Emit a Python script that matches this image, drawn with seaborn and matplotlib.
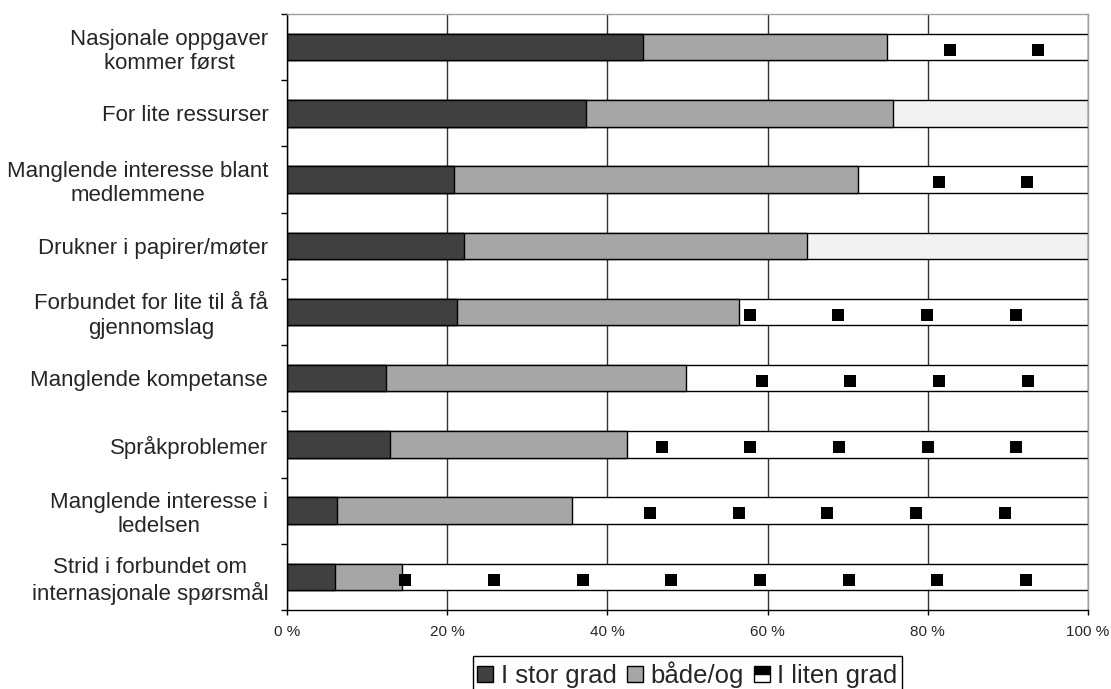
import numpy as np
import pandas as pd
import seaborn as sns
import matplotlib.pyplot as plt
from matplotlib.lines import Line2D

# chart data (percent of answers)
categories = [
    "Nasjonale oppgaver\nkommer først",
    "For lite ressurser",
    "Manglende interesse blant\nmedlemmene",
    "Drukner i papirer/møter",
    "Forbundet for lite til å få\ngjennomslag",
    "Manglende kompetanse",
    "Språkproblemer",
    "Manglende interesse i\nledelsen",
    "Strid i forbundet om\ninternasjonale spørsmål",
]
stor_grad = [44.4, 37.3, 20.9, 22.1, 21.2, 12.4, 12.9, 6.2, 6.0]
baade_og = [30.5, 38.4, 50.4, 42.8, 35.2, 37.4, 29.5, 29.4, 8.4]
liten_grad = [25.1, 24.3, 28.7, 35.1, 43.6, 50.2, 57.6, 64.4, 85.6]
series_names = ["I stor grad", "både/og", "I liten grad"]
x_ticks = [0, 20, 40, 60, 80, 100]

# styling of the patterned "I liten grad" fill (excel pattern rendering)
liten_fill = ["white", "#F2F2F2", "white", "#F2F2F2", "white", "white", "white", "white", "white"]
square_phase = [5.24, None, 3.85, None, 2.43, 3.9, 2.49, 1.02, 3.7]
square_period = 11.07

sns.set_style("white")
plt.rcParams["font.family"] = ["Liberation Sans", "DejaVu Sans"]

df = pd.DataFrame({
    "category": categories,
    "stor": stor_grad,
    "baade": baade_og,
    "liten": liten_grad,
})
df["cum2"] = df["stor"] + df["baade"]
df["cum3"] = df["cum2"] + df["liten"]

fig = plt.figure(figsize=(11.11, 6.89), dpi=100)
ax = fig.add_axes([287 / 1111, 1 - 610 / 689, 801 / 1111, 596 / 689])

# stacked bars: draw cumulative totals back to front
bar_kw = dict(orient="h", width=0.4, edgecolor="black", linewidth=1, ax=ax, zorder=2)
sns.barplot(data=df, x="cum3", y="category", hue="category", palette=liten_fill,
            legend=False, **bar_kw)
sns.barplot(data=df, x="cum2", y="category", color="#A6A6A6", saturation=1, **bar_kw)
sns.barplot(data=df, x="stor", y="category", color="#404040", saturation=1, **bar_kw)

# black squares of the pattern fill
for i, row in df.iterrows():
    phase = square_phase[i]
    if phase is None:
        continue
    xs = phase + square_period * np.arange(10)
    xs = xs[(xs > row["cum2"] + 0.3) & (xs < 99.3)]
    ax.scatter(xs, np.full(len(xs), i + 0.04), marker="s", s=78, color="black",
               linewidths=0, zorder=3)

ax.set_xlim(0, 100)
ax.set_ylim(len(categories) - 0.5, -0.5)
ax.set_xticks(x_ticks)
ax.set_xticklabels([f"{t} %" for t in x_ticks], fontsize=11)
ax.set_yticks(range(len(categories)))
ax.set_yticklabels(categories, fontsize=16, ha="right", multialignment="center")
ax.set_yticks(np.arange(-0.5, len(categories)), minor=True)
ax.set_xlabel("")
ax.set_ylabel("")

ax.tick_params(axis="y", which="major", length=0, pad=13.5)
ax.tick_params(axis="y", which="minor", length=4, width=1, color="black", direction="out", left=True)
ax.tick_params(axis="x", length=3.5, width=1, color="black", direction="out", bottom=True, pad=7)

ax.set_axisbelow(True)
ax.grid(axis="x", color="#333333", linewidth=1)
ax.grid(axis="y", visible=False)

for side in ["left", "bottom"]:
    ax.spines[side].set_color("black")
    ax.spines[side].set_linewidth(1)
for side in ["top", "right"]:
    ax.spines[side].set_color("#A0A0A0")
    ax.spines[side].set_linewidth(1)

# legend
handles = [
    Line2D([], [], linestyle="none", marker="s", markersize=11, markerfacecolor="#404040",
           markeredgecolor="black", markeredgewidth=1),
    Line2D([], [], linestyle="none", marker="s", markersize=11, markerfacecolor="#A6A6A6",
           markeredgecolor="black", markeredgewidth=1),
    Line2D([], [], linestyle="none", marker="s", markersize=11, fillstyle="top",
           markerfacecolor="black", markerfacecoloralt="white",
           markeredgecolor="black", markeredgewidth=1),
]
leg = fig.legend(handles, series_names, loc="upper center", bbox_to_anchor=(687.5 / 1111, 1 - 656 / 689),
                 ncol=3, fontsize=18.5, frameon=True, fancybox=False, edgecolor="black",
                 framealpha=1, handlelength=0.6, handletextpad=0.3, columnspacing=0.4,
                 borderpad=0.2, borderaxespad=0)
leg.get_frame().set_linewidth(1)

fig.savefig("out.png", dpi=100)
